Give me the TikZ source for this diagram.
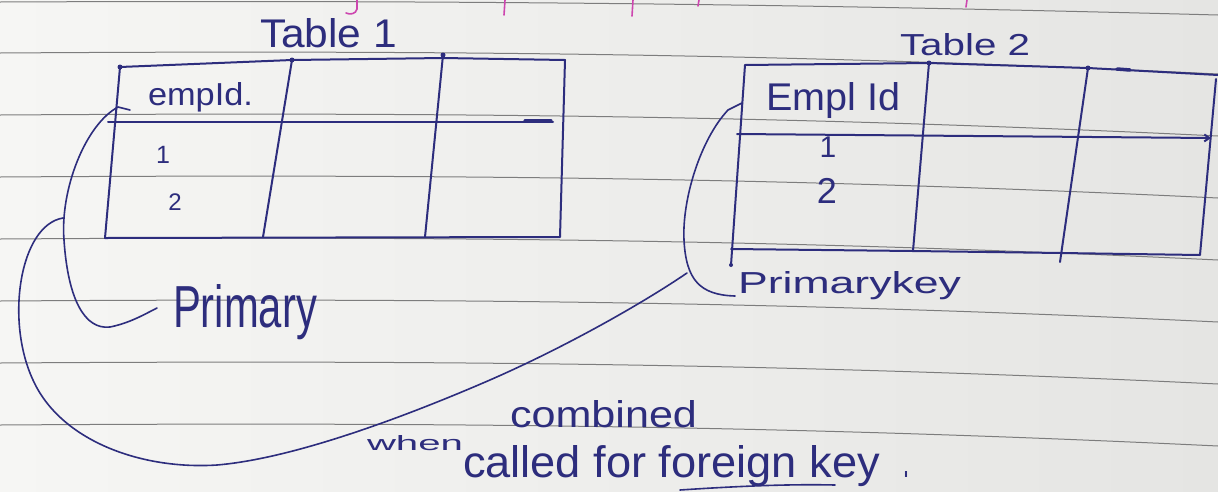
\documentclass[tikz,border=0pt]{standalone}
\usepackage{fontspec}
\setmainfont{Liberation Sans}
\usepackage{graphicx}
\usetikzlibrary{arrows.meta}
\definecolor{ink}{RGB}{45,45,125}
\definecolor{rulegray}{RGB}{125,125,125}
\definecolor{paperL}{RGB}{246,246,244}
\definecolor{paperR}{RGB}{229,229,227}
\definecolor{pinkink}{RGB}{205,70,175}
\newcommand{\hw}[3]{\resizebox{#1pt}{#2pt}{#3}}
\begin{document}
\begin{tikzpicture}[x=1pt,y=-1pt,
  pen/.style={draw=ink,line width=2pt,line cap=round,line join=round},
  thinpen/.style={draw=ink,line width=1.6pt,line cap=round,line join=round},
  paperline/.style={draw=rulegray,line width=1pt},
  hand/.style={inner sep=0pt,outer sep=0pt,text=ink,anchor=base west},
  digit/.style={inner sep=0pt,outer sep=0pt,text=ink,anchor=base},
  inkdot/.style={fill=ink,draw=none,circle,inner sep=0pt,minimum size=5pt},
  pinkstroke/.style={draw=pinkink,line width=1.6pt,line cap=round}]
\useasboundingbox (0,0) rectangle (1218,491);
% paper
\shade[left color=paperL,right color=paperR] (0,0) rectangle (1218,491);
\draw[paperline] (0,2) .. controls (450,0) and (800,4) .. (1218,15);
\foreach \yy in {53,115,177,239,301,363,425}
  \draw[paperline] (0,\yy) .. controls (450,{\yy-3}) and (800,{\yy+1}) .. (1218,{\yy+21});
% pink fragments of text cut at the top
\draw[pinkstroke] (357,0) -- (357,9) .. controls (356,14) and (350,15) .. (346,13);
\draw[pinkstroke] (505,0) -- (504,15);
\draw[pinkstroke] (633,0) -- (632,16);
\draw[pinkstroke] (699,0) -- (698,6);
\draw[pinkstroke] (967,0) -- (966,7);

% ---------------- Table 1 ----------------
\coordinate (t1tl) at (120,67);
\coordinate (t1c1t) at (292,60);
\coordinate (t1c2t) at (443,55);
\coordinate (t1tr) at (565,60);
\coordinate (t1br) at (560,237);
\coordinate (t1c2b) at (425,237);
\coordinate (t1c1b) at (263,237);
\coordinate (t1bl) at (105,238);
\coordinate (t1hl) at (108,122);
\coordinate (t1hr) at (553,122);
\draw[pen] (t1tl) -- (t1c1t) -- (443,58) -- (t1tr) -- (t1br) -- (t1bl) -- cycle;
\draw[pen] (t1c1t) -- (t1c1b);
\draw[pen] (t1c2t) -- (t1c2b);
\draw[pen] (t1hl) -- (t1hr);
\draw[ink,line width=3.2pt,line cap=round] (525,121) -- (551,121);
\node[inkdot] (d1) at (t1tl) {};
\node[inkdot] (d2) at (t1c1t) {};
\node[inkdot] (d3) at (t1c2t) {};
\node[hand] (t1title) at (260,47) {\hw{137}{29}{Table 1}};
\node[hand] (t1head) at (148,105) {\hw{105}{23}{empId.}};
\node[digit,font=\fontsize{25}{30}\selectfont] (t1r1) at (163,163) {1};
\node[digit,font=\fontsize{24}{28}\selectfont] (t1r2) at (175,210) {2};

% ---------------- Table 2 ----------------
\coordinate (t2tl) at (745,65);
\coordinate (t2c1t) at (929,63);
\coordinate (t2c2t) at (1088,68);
\coordinate (t2tre) at (1218,75);
\coordinate (t2tr) at (1216,79);
\coordinate (t2br) at (1200,255);
\coordinate (t2c2bl) at (1061,253);
\coordinate (t2c1b) at (913,251);
\coordinate (t2bl) at (731,249);
\coordinate (t2lb) at (731,265);
\coordinate (t2c2b) at (1060,262);
\coordinate (t2hl) at (737,134);
\coordinate (t2hr) at (1211,138);
\draw[pen] (t2tl) -- (t2c1t) -- (t2c2t) -- (t2tre);
\draw[pen] (t2tr) -- (t2br) -- (t2c2bl) -- (t2c1b) -- (t2bl);
\draw[pen] (t2tl) -- (t2lb);
\draw[pen] (t2c1t) -- (t2c1b);
\draw[pen] (t2c2t) -- (t2c2b);
\draw[pen,-{Straight Barb[length=5pt,width=7pt]}] (t2hl) -- (t2hr);
\draw[ink,line width=3.5pt,line cap=round] (1117,69) -- (1130,70);
\node[inkdot] (d4) at (t2c1t) {};
\node[inkdot] (d5) at (t2c2t) {};
\node[inkdot,minimum size=4pt] (d6) at (t2lb) {};
\node[hand] (t2title) at (900,55) {\hw{130}{22}{Table 2}};
\node[hand] (t2head) at (766,110) {\hw{134}{28}{Empl Id}};
\node[digit,font=\fontsize{30}{36}\selectfont] (t2r1) at (828,157) {1};
\node[digit,font=\fontsize{36}{42}\selectfont] (t2r2) at (827,203) {2};

% ---------------- labels ----------------
\node[hand] (pk1) at (173,327) {\hw{144}{43}{Primary}};
\node[hand] (pk2) at (738,293) {\hw{223}{22}{Primarykey}};
\node[hand] (when) at (367,450) {\hw{96}{15}{when}};
\node[hand] (comb) at (510,427) {\hw{187}{27}{combined}};
\node[hand] (called) at (463,477) {\hw{417}{32}{called for foreign key}};
\node[hand] (dot) at (903,477) {\hw{6}{6}{.}};

% ---------------- brackets and connector ----------------
\coordinate (a0) at (130,110);
\coordinate (a1) at (118,107);
\coordinate (aj) at (64,240);
\coordinate (a2) at (110,327);
\coordinate (a3) at (157,308);
\draw[thinpen] (a0) -- (a1) .. controls (85,125) and (60,190) .. (aj)
  .. controls (68,300) and (85,330) .. (a2) .. controls (130,323) and (145,314) .. (a3);

\coordinate (c0) at (742,103);
\coordinate (c1) at (728,110);
\coordinate (cj) at (684,240);
\coordinate (c2) at (735,296);
\coordinate (cm) at (687,273);
\draw[thinpen] (c0) -- (c1) .. controls (700,140) and (682,200) .. (cj)
  .. controls (686,280) and (700,295) .. (c2);

\coordinate (bj) at (63,218);
\coordinate (b1) at (33,380);
\coordinate (b2) at (217,465);
\coordinate (b3) at (483,383);
\draw[thinpen] (bj) .. controls (20,225) and (5,320) .. (b1)
  .. controls (60,440) and (140,470) .. (b2)
  .. controls (300,458) and (420,410) .. (b3)
  .. controls (560,350) and (640,305) .. (cm);

% underline of "foreign key"
\coordinate (u0) at (680,490);
\coordinate (u1) at (835,485);
\draw[thinpen] (u0) .. controls (740,486) and (790,484) .. (u1);
\end{tikzpicture}
\end{document}
